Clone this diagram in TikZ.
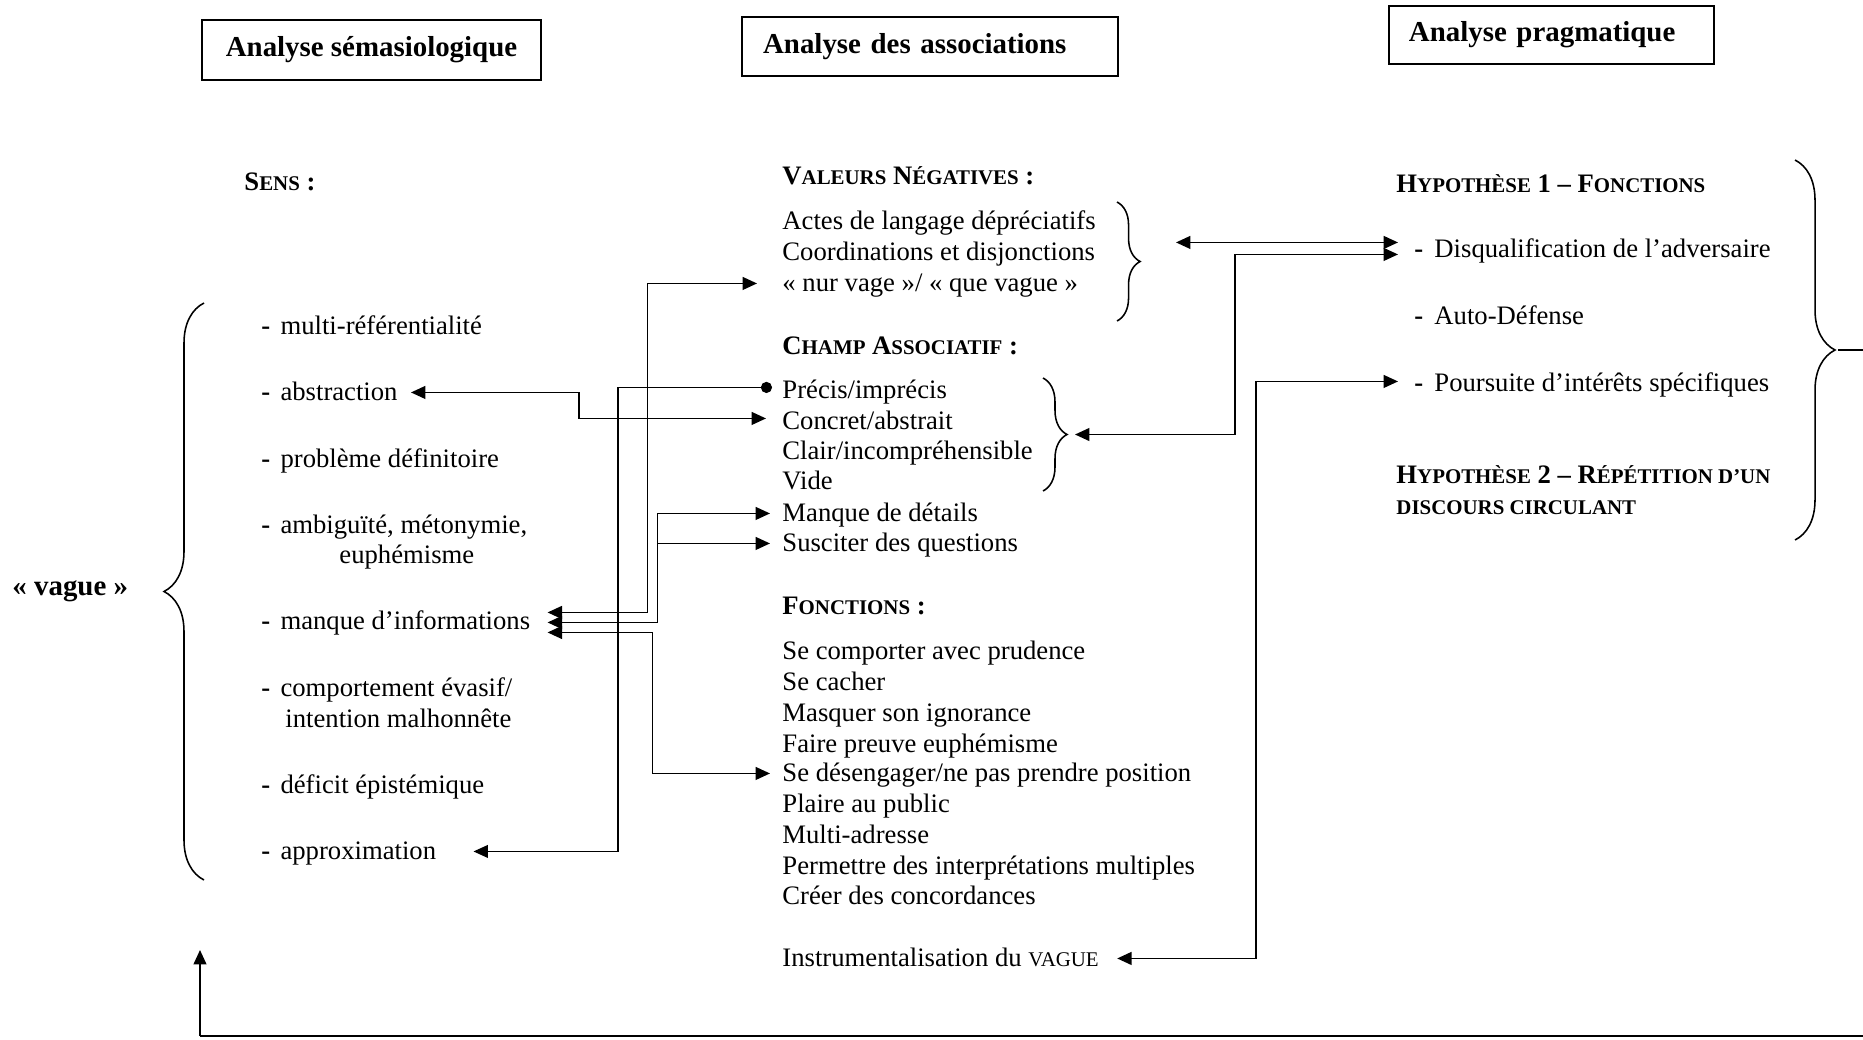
\documentclass[tikz,border=0pt]{standalone}
\usepackage{fontspec}
\setmainfont{Liberation Serif}
\usetikzlibrary{arrows.meta,calc,decorations.pathreplacing}
\newcommand\smc[1]{{\fontsize{9.4pt}{10pt}\selectfont #1}}
\newcommand\dsh{\makebox[8.6pt][l]{\textbf{-}}}
\newcommand\dshr{\makebox[9pt][l]{\textbf{-}}}
\begin{document}
\begin{tikzpicture}[x=0.45pt,y=-0.45pt,
  txt/.style={inner sep=0pt, anchor=west, yshift=-1.1pt, font=\fontsize{12pt}{13.8pt}\selectfont, execute at begin node=\strut},
  hd/.style={txt, font=\fontsize{12pt}{13.8pt}\selectfont\bfseries},
  hdr/.style={draw, line width=0.9pt, font=\fontsize{13pt}{15pt}\selectfont\bfseries, inner ysep=0pt},
  ln/.style={line width=0.75pt},
  thinln/.style={line width=0.5pt},
  conn/.style={ln, -{Triangle[length=6.5pt,width=5.8pt]}},
  both/.style={ln, {Triangle[length=6.5pt,width=5.8pt]}-{Triangle[length=6.5pt,width=5.8pt]}},
  brc/.style={line width=0.7pt, decorate, decoration={brace, amplitude=#1}},
]
\useasboundingbox (0,0) rectangle (1863,1039);

% headers
\node[hdr, minimum width=152.6pt, minimum height=27pt] (h1) at (371.5,50) {Analyse sémasiologique};
\node[hdr, text width=150.2pt, inner xsep=9.5pt, align=left, minimum height=26.6pt] (h2) at (930,46.5) {Analyse des associations};
\node[hdr, text width=128.3pt, inner xsep=9pt, align=left, minimum height=26.1pt] (h3) at (1551.5,35) {Analyse pragmatique};

% left column
\node[hd] (sens) at (244,182) {S\smc{ENS} :};
\node[txt, font=\fontsize{13pt}{15pt}\selectfont\bfseries] (vague) at (12,586) {«~vague~»};
\node[txt] (multi) at (261,326) {\dsh multi-référentialité};
\node[txt] (abstr) at (261,392) {\dsh abstraction};
\node[txt] (prob) at (261,459) {\dsh problème définitoire};
\node[txt] (ambig) at (261,525) {\dsh ambiguïté, métonymie,};
\node[txt] (euph) at (339,555) {euphémisme};
\node[txt] (manque) at (261,621) {\dsh manque d’informations};
\node[txt] (comp) at (261,688) {\dsh comportement évasif/};
\node[txt] (intent) at (285,719) {intention malhonnête};
\node[txt] (defic) at (261,785) {\dsh déficit épistémique};
\node[txt] (approx) at (261,851) {\dsh approximation};

% middle column
\node[hd] (valneg) at (782,176) {V\smc{ALEURS} N\smc{ÉGATIVES} :};
\node[txt] (actes) at (782,221) {Actes de langage dépréciatifs};
\node[txt] (coord) at (782,252) {Coordinations et disjonctions};
\node[txt] (nurvage) at (782,283) {«~nur vage~»/ «~que vague~»};
\node[hd] (champ) at (782,346) {C\smc{HAMP} A\smc{SSOCIATIF} :};
\node[txt] (precis) at (782,390) {Précis/imprécis};
\node[txt] (concret) at (782,421) {Concret/abstrait};
\node[txt] (clair) at (782,451) {Clair/incompréhensible};
\node[txt] (vide) at (782,481) {Vide};
\node[txt] (mdet) at (782,513) {Manque de détails};
\node[txt] (susc) at (782,543) {Susciter des questions};
\node[hd] (fonc) at (782,606) {F\smc{ONCTIONS} :};
\node[txt] (f1) at (782,651) {Se comporter avec prudence};
\node[txt] (f2) at (782,682) {Se cacher};
\node[txt] (f3) at (782,713) {Masquer son ignorance};
\node[txt] (f4) at (782,744) {Faire preuve euphémisme};
\node[txt] (desen) at (782,773) {Se désengager/ne pas prendre position};
\node[txt] (f6) at (782,804) {Plaire au public};
\node[txt] (f7) at (782,835) {Multi-adresse};
\node[txt] (f8) at (782,866) {Permettre des interprétations multiples};
\node[txt] (f9) at (782,896) {Créer des concordances};
\node[txt] (instr) at (782,958) {Instrumentalisation du \smc{VAGUE}};

% right column
\node[hd] (hyp1) at (1396,184) {H\smc{YPOTHÈSE} 1 – F\smc{ONCTIONS}};
\node[txt] (disq) at (1414,249) {\dshr Disqualification de l’adversaire};
\node[txt] (auto) at (1414,316) {\dshr Auto-Défense};
\node[txt] (pours) at (1414,383) {\dshr Poursuite d’intérêts spécifiques};
\node[hd] (hyp2) at (1396,475) {H\smc{YPOTHÈSE} 2 – R\smc{ÉPÉTITION D’UN}};
\node[hd] (hyp2b) at (1396,506) {\smc{DISCOURS CIRCULANT}};

% braces
\draw[brc=18pt] (204,880) -- (204,303);
\draw[brc=10.4pt] (1117,202) -- (1117,321);
\draw[brc=10.8pt] (1043,378) -- (1043,491);
\draw[brc=18pt] (1795,160) -- (1795,540);
\coordinate (ctip) at (1067,434.5);
\coordinate (btip) at (1835,350);
\coordinate (edgeR) at (1863,350);

% connectors
\draw[both] ($(concret.west)+(-16,-5)$) -- ++(-187,0) |- ($(abstr.east)+(13,-2)$);
\draw[thinln, {Circle[length=5pt]}-{Triangle[length=6.5pt,width=5.8pt]}] ($(precis.west)+(-10,-5)$) -- ++(-154,0) |- ($(approx.east)+(37,-2)$);
\draw[both] ($(manque.east)+(17,-11)$) -- ++(100,0) |- ($(nurvage.west)+(-25,-2)$);
\draw[both] ($(manque.east)+(17,-1)$) -- ++(110,0) coordinate (jm) |- ($(mdet.west)+(-12,-2)$);
\draw[conn] (jm |- susc.west) ++(0,-2) -- ($(susc.west)+(-12,-2)$);
\draw[both] ($(manque.east)+(17,9)$) -- ++(105,0) |- ($(desen.west)+(-12,-2)$);
\draw[both] ($(disq.west)+(-238,-9)$) -- ($(disq.west)+(-16,-9)$);
\draw[both] ($(ctip)+(8,0)$) -| ($(disq.west)+(-179,3)$) -- ($(disq.west)+(-16,3)$);
\draw[both] ($(instr.east)+(18,-2)$) -| ($(pours.west)+(-158,-4)$) -- ($(pours.west)+(-16,-4)$);
\draw[ln] ($(btip)+(3,0)$) -- (edgeR);

% bottom return line
\coordinate (bL) at (200,1036);
\coordinate (bR) at (1863,1036);
\coordinate (upT) at (200,950);
\draw[ln] (bR) -- (bL);
\draw[conn] (bL) -- (upT);
\end{tikzpicture}
\end{document}
